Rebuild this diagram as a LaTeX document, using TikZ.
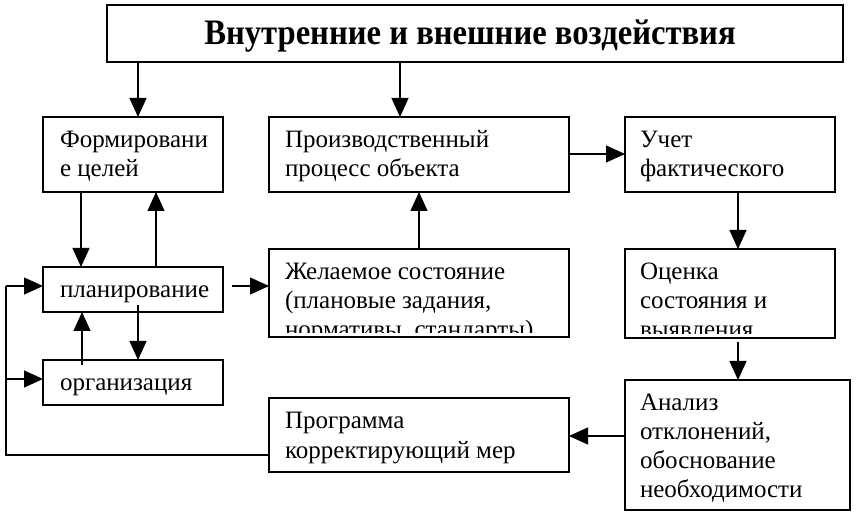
\documentclass[tikz,border=0pt]{standalone}
\usepackage{fontspec}
\setmainfont{Liberation Serif}
\usetikzlibrary{arrows.meta,calc}
\tikzset{
  box/.style={draw, line width=1.6pt, inner sep=0pt, outer sep=0pt, anchor=north west, fill=none},
  txt/.style={inner sep=0pt, outer sep=0pt, anchor=base west, font=\fontsize{25}{29}\selectfont},
  arr/.style={line width=1.2pt, -{Triangle[length=19pt,width=17pt]}},
  ln/.style={line width=1.2pt}
}
\begin{document}
\begin{tikzpicture}[x=1pt,y=-1pt]
\useasboundingbox (0,0) rectangle (857,518);
% boxes
\node[box, minimum width=736pt, minimum height=57pt] (top) at (107,5) {};
\node[box, minimum width=180pt, minimum height=75pt] (form) at (43,117) {};
\node[box, minimum width=300pt, minimum height=75pt] (proc) at (269,117) {};
\node[box, minimum width=210pt, minimum height=75pt] (uchet) at (625,117) {};
\node[box, minimum width=180pt, minimum height=45pt] (plan) at (43,267) {};
\node[box, minimum width=300pt, minimum height=88pt] (zhel) at (269,249) {};
\node[box, minimum width=210pt, minimum height=89pt] (ocenka) at (625,249) {};
\node[box, minimum width=180pt, minimum height=45pt] (org) at (43,360) {};
\node[box, minimum width=300pt, minimum height=74pt] (prog) at (269,398) {};
\node[box, minimum width=225pt, minimum height=130pt] (analiz) at (625,380) {};
% texts
\node[inner sep=0pt, anchor=base, font=\fontsize{32}{36}\selectfont\bfseries] (ttl) at (470,45) {\scalebox{1.02}[1.12]{Внутренние и внешние воздействия}};
\node[txt] (tform) at ($(form.north west)+(17,31)$) {\vtop{\hbox{Формировани}\hbox{е целей}}};
\node[txt] (tproc) at ($(proc.north west)+(16,31)$) {\vtop{\hbox{Производственный}\hbox{процесс объекта}}};
\node[txt] (tuchet) at ($(uchet.north west)+(15,31)$) {\vtop{\hbox{Учет}\hbox{фактического}}};
\node[txt] (tplan) at ($(plan.north west)+(17,31)$) {планирование};
\node[txt] (torg) at ($(org.north west)+(17,31)$) {организация};
\node[txt] (tprog) at ($(prog.north west)+(16,31)$) {\vtop{\hbox{Программа}\hbox{корректирующий мер}}};
\node[txt] (tanaliz) at ($(analiz.north west)+(15,31)$) {\vtop{\hbox{Анализ}\hbox{отклонений,}\hbox{обоснование}\hbox{необходимости}}};
\begin{scope}
\clip (zhel.north west) rectangle ($(zhel.south east)+(0,-4)$);
\node[txt] (tzhel) at ($(zhel.north west)+(16,30.5)$) {\vtop{\hbox{Желаемое состояние}\hbox{(плановые задания,}\hbox{нормативы, стандарты)}}};
\end{scope}
\begin{scope}
\clip (ocenka.north west) rectangle ($(ocenka.south east)+(0,-4)$);
\node[txt] (tocenka) at ($(ocenka.north west)+(15,30.5)$) {\vtop{\hbox{Оценка}\hbox{состояния и}\hbox{выявления}}};
\end{scope}
% connectors
\draw[arr] (top.south -| 138,0) -- (form.north -| 138,0);
\draw[arr] (top.south -| 400,0) -- (proc.north -| 400,0);
\draw[arr] (form.south -| 81,0) -- (plan.north -| 81,0);
\draw[arr] (plan.north -| 156,0) -- (form.south -| 156,0);
\draw[arr] (proc.east |- 0,154) -- (uchet.west |- 0,154);
\draw[arr] (zhel.north -| 419,0) -- (proc.south -| 419,0);
\draw[arr] ($(plan.east |- 0,286)+(9,0)$) -- (zhel.west |- 0,286);
\draw[arr] ($(plan.south -| 138,0)+(0,-7)$) -- (org.north -| 138,0);
\draw[arr] ($(org.north -| 82,0)+(0,5)$) -- (plan.south -| 82,0);
\draw[arr] (uchet.south -| 738,0) -- (ocenka.north -| 738,0);
\draw[arr] ($(ocenka.south -| 738,0)+(0,4)$) -- (analiz.north -| 738,0);
\draw[arr] (analiz.west |- 0,436) -- (prog.east |- 0,436);
\coordinate (fbb) at (6,455);
\coordinate (fbt) at (6,286);
\coordinate (fbm) at (6,379);
\draw[ln] (prog.west |- fbb) -- (fbb) -- (fbt);
\draw[arr] (fbt) -- (plan.west |- fbt);
\draw[arr] (fbm) -- (org.west |- fbm);
\end{tikzpicture}
\end{document}
